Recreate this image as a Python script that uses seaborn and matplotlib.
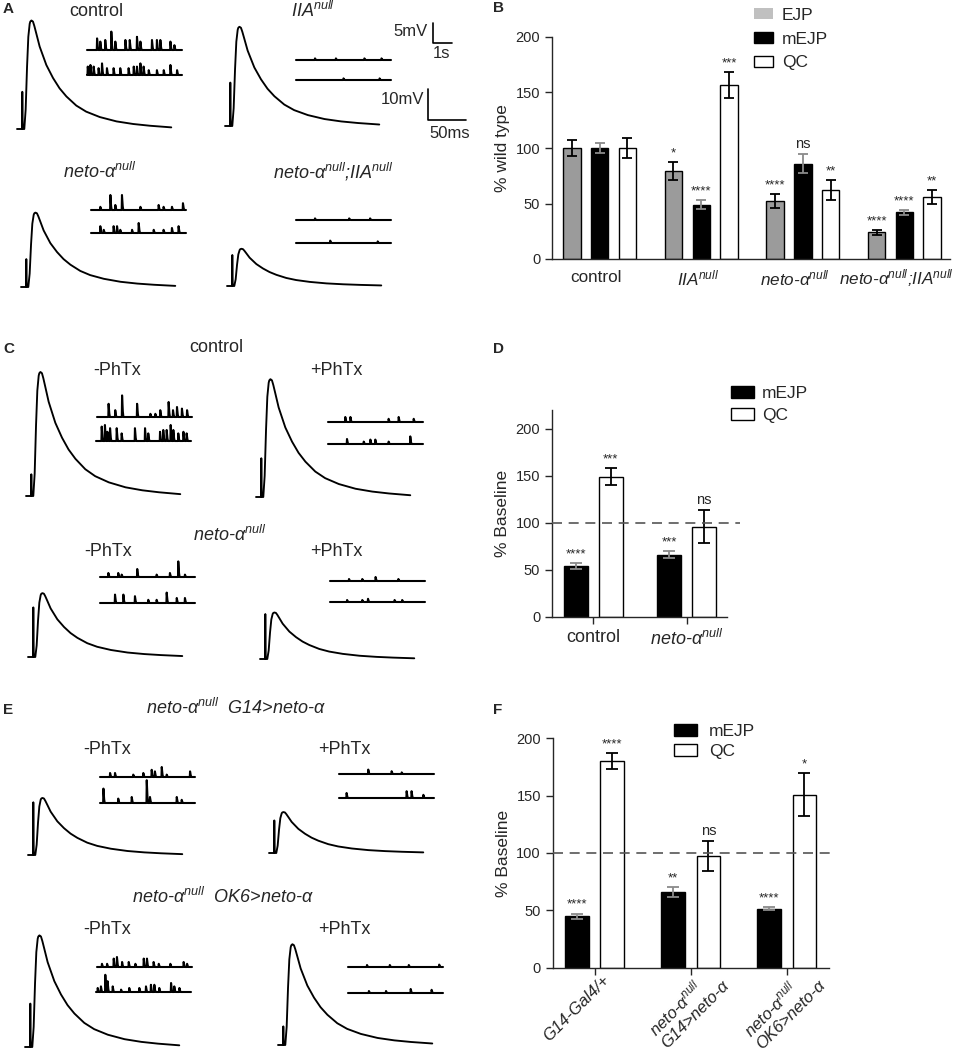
import matplotlib
matplotlib.use("Agg")
import matplotlib.pyplot as plt
import matplotlib.transforms as mtransforms
from matplotlib.patches import Patch
import pandas as pd
import seaborn as sns

# ---------------- data ----------------
# EJP waveform (ms, fraction of peak)
EJP_T = [9.6, 11.4, 13.2, 14.9, 16.7, 17.5, 18.9, 19.7, 21.0, 22.8, 25.4, 29.8,
         38.6, 47.4, 56.0, 65.0, 78.0, 91.0, 109.0, 131.0, 153.0, 175.0, 203.0]
EJP_F = [0, 0.18, 0.57, 0.85, 0.97, 0.99, 1.0, 0.997, 0.99, 0.95, 0.88, 0.76,
         0.59, 0.47, 0.375, 0.30, 0.216, 0.16, 0.11, 0.07, 0.046, 0.03, 0.015]

# peak amplitude and stimulus artifact (mV) per trace
A_EJP_MV = [35, 32, 24, 12]          # control, IIA, neto, neto;IIA
A_ART_MV = [12, 14, 9, 10]
C_EJP_MV = [40, 38, 20.6, 15]        # control -/+PhTx, neto -/+PhTx
C_ART_MV = [7, 12.5, 16, 14.5]
E_EJP_MV = [18.4, 13.2, 36, 32.5]    # G14 -/+PhTx, OK6 -/+PhTx
E_ART_MV = [17, 10.5, 14, 6]

# miniature events: times (s) and amplitudes (mV), two sweeps per recording
A_MINI_T = [
    [0.53, 0.70, 0.96, 1.28, 1.49, 2.02, 2.25, 2.63, 2.81, 3.42, 3.68, 3.86, 4.39, 4.60],
    [0.04, 0.18, 0.35, 0.61, 0.79, 1.05, 1.40, 1.75, 2.19, 2.46, 2.63, 2.81, 2.98, 3.25, 3.68, 4.04, 4.39, 4.74],
    [1.0, 2.1, 3.6, 4.5],
    [2.5, 4.4],
    [0.49, 1.02, 1.28, 1.63, 2.60, 3.56, 3.82, 4.26, 4.84],
    [0.49, 0.67, 1.19, 1.37, 1.54, 2.16, 2.51, 3.30, 3.82, 4.26, 4.61],
    [1.0, 2.8, 3.9],
    [1.8, 4.3],
]
A_MINI_A = [
    [2.9, 2.1, 2.5, 4.6, 2.1, 2.5, 2.5, 3.3, 2.1, 2.5, 2.5, 2.5, 2.1, 1.2],
    [2.1, 2.5, 2.1, 1.7, 2.9, 1.7, 1.7, 1.7, 1.7, 2.1, 2.1, 2.9, 2.1, 1.2, 1.2, 1.2, 2.5, 1.2],
    [0.4, 0.4, 0.4, 0.4],
    [0.4, 0.4],
    [0.8, 3.75, 1.25, 3.75, 0.8, 1.25, 0.8, 0.8, 1.7],
    [1.7, 0.8, 1.7, 1.7, 0.8, 0.8, 2.5, 0.8, 0.8, 1.25, 1.7],
    [0.4, 0.4, 0.4],
    [0.6, 0.4],
]
C_MINI_T = [
    [0.61, 0.96, 1.32, 2.11, 2.81, 3.07, 3.33, 3.77, 4.0, 4.21, 4.47, 4.74],
    [0.30, 0.47, 0.60, 0.74, 1.09, 1.35, 2.05, 2.58, 2.75, 3.37, 3.54, 3.72, 3.93, 4.07, 4.33, 4.60, 4.77],
    [0.91, 1.18, 3.19, 3.72, 4.51],
    [1.0, 1.88, 2.23, 2.49, 3.19, 4.33],
    [0.44, 0.96, 1.14, 1.96, 2.98, 3.68, 4.12, 4.47],
    [0.79, 1.23, 1.84, 2.54, 2.98, 3.51, 4.04, 4.47],
    [1.0, 1.7, 2.4, 3.6],
    [0.9, 1.7, 2.0, 3.4, 3.8],
]
C_MINI_A = [
    [3.3, 1.7, 5.4, 3.3, 0.8, 0.8, 1.7, 3.75, 1.7, 2.5, 2.1, 1.7],
    [3.6, 4.0, 2.3, 3.2, 3.2, 1.9, 3.2, 3.2, 1.9, 2.3, 2.75, 2.75, 4.0, 2.75, 1.9, 2.3, 1.9],
    [1.25, 1.25, 0.8, 1.25, 0.8],
    [1.25, 0.6, 1.1, 1.1, 0.6, 1.9],
    [1.0, 1.0, 0.6, 2.0, 0.6, 1.0, 3.9, 0.6],
    [2.1, 2.1, 1.7, 0.8, 0.8, 2.6, 1.25, 1.25],
    [0.5, 0.5, 1.0, 0.5],
    [0.5, 0.5, 0.8, 0.5, 0.5],
]
E_MINI_T = [
    [0.53, 0.79, 1.75, 2.28, 2.72, 2.89, 3.25, 3.51, 4.74],
    [0.18, 0.96, 1.67, 2.46, 2.63, 4.04, 4.30],
    [1.54, 2.77, 3.30],
    [0.40, 3.56, 3.82, 4.44],
    [0.26, 0.53, 0.88, 1.05, 1.32, 1.67, 2.02, 2.46, 2.63, 2.98, 3.25, 3.86, 4.56, 4.74],
    [0.09, 0.26, 0.49, 0.61, 0.88, 1.32, 1.75, 2.28, 2.63, 2.89, 3.07, 3.33, 3.95, 4.12, 4.39],
    [1.0, 2.2, 3.2, 4.8],
    [1.1, 2.0, 3.3, 4.4],
]
E_MINI_A = [
    [1.0, 1.0, 0.6, 1.0, 1.8, 1.4, 2.5, 0.6, 1.4],
    [3.6, 1.1, 1.5, 5.7, 1.5, 1.5, 0.8],
    [1.1, 0.7, 0.4],
    [1.25, 1.7, 1.7, 0.8],
    [0.8, 0.8, 2.1, 2.5, 1.25, 1.25, 0.8, 2.1, 2.1, 1.25, 0.8, 0.8, 1.25, 0.8],
    [1.0, 1.4, 4.3, 2.7, 1.4, 0.6, 1.0, 1.0, 1.4, 1.8, 1.8, 1.0, 2.25, 1.4, 1.0],
    [0.5, 0.5, 0.5, 0.6],
    [0.5, 0.5, 1.0, 0.8],
]

# bar charts
B_GENOTYPES = ["control", "IIA", "neto", "neto;IIA"]
B_LABELS = ["control", "IIA$^{null}$", "neto-α$^{null}$", "neto-α$^{null}$;IIA$^{null}$"]
B_MEASURES = ["EJP", "mEJP", "QC"]
B_EJP = [100, 79, 52, 24]
B_EJP_SEM = [7, 8, 6.3, 2.3]
B_MEJP = [100, 49, 86, 42]
B_MEJP_SEM = [4.4, 3.8, 8.7, 2.0]
B_QC = [100, 157, 62, 56]
B_QC_SEM = [9, 11.6, 9, 6]
B_STARS = [["", "*", "****", "****"], ["", "****", "ns", "****"], ["", "***", "**", "**"]]

D_GENOTYPES = ["control", "neto"]
D_LABELS = ["control", "neto-α$^{null}$"]
D_MEJP = [54, 66]
D_MEJP_SEM = [3, 3.5]
D_QC = [149, 96]
D_QC_SEM = [9, 18]
D_STARS = [["****", "***"], ["***", "ns"]]

F_GENOTYPES = ["G14", "G14 rescue", "OK6 rescue"]
F_LABELS = ["G14-Gal4/+", "neto-α$^{null}$\nG14>neto-α", "neto-α$^{null}$\nOK6>neto-α"]
F_MEJP = [45, 66, 51.5]
F_MEJP_SEM = [2.2, 4.4, 1.6]
F_QC = [180, 97.5, 151]
F_QC_SEM = [7, 13, 18.6]
F_STARS = [["****", "**", "****"], ["****", "ns", "*"]]

# ---------------- style ----------------
sns.set_style("ticks")
plt.rcParams["font.family"] = ["Liberation Sans", "DejaVu Sans"]
plt.rcParams["mathtext.fontset"] = "custom"
plt.rcParams["mathtext.it"] = "Liberation Sans:italic"
plt.rcParams["mathtext.rm"] = "Liberation Sans"
plt.rcParams["axes.linewidth"] = 1.0

W, H = 954, 1050
fig = plt.figure(figsize=(9.54, 10.5), dpi=100)
GRAY = "#9b9b9b"
ERR_GRAY = "#8a8a8a"


def px_axes(x0, y0, sx, sy, xmax, ymax):
    # x0, y0: pixel position of data origin; sx, sy: pixels per data unit
    ax = fig.add_axes([x0 / W, 1 - y0 / H, xmax * sx / W, ymax * sy / H])
    ax.set_xlim(0, xmax)
    ax.set_ylim(0, ymax)
    ax.axis("off")
    return ax


def draw_ejp(x0, y0, amp, art):
    ax = px_axes(x0, y0, 0.76, 3.1, 210, 45)
    t = [0, 6.5, 7.0, 7.6] + EJP_T
    v = [0, 0, art, 0] + [f * amp for f in EJP_F]
    ax.plot(t, v, color="black", lw=1.35, clip_on=False)


def draw_minis(x0, y0, times, amps):
    ax = px_axes(x0, y0, 19, 4, 5, 7)
    t, v = [0], [0]
    for ti, ai in zip(times, amps):
        t += [ti - 0.015, ti, ti + 0.04, ti + 0.07]
        v += [0, ai, ai * 0.25, 0]
    t.append(5)
    v.append(0)
    ax.plot(t, v, color="black", lw=1.5, clip_on=False)


def label(x, y, s, size=13, italic=False, **kw):
    fig.text(x / W, 1 - y / H, s, fontsize=size, ha=kw.pop("ha", "center"),
             va=kw.pop("va", "center"), fontstyle="italic" if italic else "normal", **kw)


def xlabel_at(ax, i, s, dx, dy, **kw):
    # category label under the axis, offset in pixels from (category, axis line)
    trans = mtransforms.offset_copy(ax.get_xaxis_transform(), fig=fig, x=dx, y=dy, units="dots")
    ax.text(i, 0, s, transform=trans, **kw)


for x, y, s in [(3, 9, "A"), (493, 8, "B"), (3, 349, "C"), (493, 349, "D"), (3, 710, "E"), (493, 710, "F")]:
    label(x, y, s, size=11, ha="left", fontweight="bold")

# ---------------- panel A ----------------
ejp_pos = [(17, 129), (225, 126), (21, 287), (227, 286)]
mini_pos = [(87, 50), (87, 75), (296, 60), (296, 80), (91, 210), (91, 233), (296, 220), (296, 243)]
for (x, y), amp, art in zip(ejp_pos, A_EJP_MV, A_ART_MV):
    draw_ejp(x, y, amp, art)
for (x, y), ts, am in zip(mini_pos, A_MINI_T, A_MINI_A):
    draw_minis(x, y, ts, am)
label(96, 11, "control")
label(313, 11, "IIA$^{null}$", italic=True)
label(100, 172, "neto-α$^{null}$", italic=True)
label(333, 172, "neto-α$^{null}$;IIA$^{null}$", italic=True)

# scale bars
sb = px_axes(433, 43, 19, 4, 1, 5)
sb.plot([0, 0, 1], [5, 0, 0], color="black", lw=1.2, clip_on=False)
label(428, 32, "5mV", ha="right", size=12)
label(442, 53, "1s", size=12)
sb2 = px_axes(428, 120, 0.76, 3.1, 50, 10)
sb2.plot([0, 0, 50], [10, 0, 0], color="black", lw=1.2, clip_on=False)
label(424, 100, "10mV", ha="right", size=12)
label(450, 133, "50ms", size=12)

# ---------------- panel C ----------------
ejp_pos = [(26, 496), (256, 497), (28, 657), (260, 659)]
mini_pos = [(97, 417), (96, 441), (328, 422), (328, 444), (100, 577), (100, 603), (330, 581), (330, 602)]
for (x, y), amp, art in zip(ejp_pos, C_EJP_MV, C_ART_MV):
    draw_ejp(x, y, amp, art)
for (x, y), ts, am in zip(mini_pos, C_MINI_T, C_MINI_A):
    draw_minis(x, y, ts, am)
label(216, 347, "control")
label(117, 370, "-PhTx")
label(336, 370, "+PhTx")
label(230, 535, "neto-α$^{null}$", italic=True)
label(108, 551, "-PhTx")
label(336, 551, "+PhTx")

# ---------------- panel E ----------------
ejp_pos = [(28, 855), (269, 853), (25, 1047), (278, 1045)]
mini_pos = [(100, 777), (100, 803), (339, 774), (339, 798), (97, 967), (96, 992), (348, 967), (348, 993)]
for (x, y), amp, art in zip(ejp_pos, E_EJP_MV, E_ART_MV):
    draw_ejp(x, y, amp, art)
for (x, y), ts, am in zip(mini_pos, E_MINI_T, E_MINI_A):
    draw_minis(x, y, ts, am)
label(236, 708, "neto-α$^{null}$  G14>neto-α", italic=True)
label(107, 749, "-PhTx")
label(344, 749, "+PhTx")
label(223, 897, "neto-α$^{null}$  OK6>neto-α", italic=True)
label(107, 930, "-PhTx")
label(344, 930, "+PhTx")


# ---------------- bar charts ----------------
def bar_panel(ax, genotypes, measures, values, sems, colors, err_colors, stars,
              width, gap, capsize):
    rows = []
    for m, vals in zip(measures, values):
        for g, v in zip(genotypes, vals):
            rows.append({"genotype": g, "measure": m, "value": v})
    df = pd.DataFrame(rows)
    sns.barplot(data=df, x="genotype", y="value", hue="measure", order=genotypes,
                hue_order=measures, palette=dict(zip(measures, colors)),
                edgecolor="black", linewidth=1.0, width=width, gap=gap,
                errorbar=None, legend=False, saturation=1, ax=ax)
    for cont, sem, ec, st in zip(ax.containers, sems, err_colors, stars):
        for bar, e, s in zip(cont, sem, st):
            x = bar.get_x() + bar.get_width() / 2
            h = bar.get_height()
            ax.errorbar(x, h, yerr=e, color=ec, capsize=capsize, elinewidth=1.3,
                        capthick=1.3, zorder=4)
            if s:
                fs = 10.5 if s == "ns" else 9.5
                ax.annotate(s, (x, h + e), xytext=(0, 2), textcoords="offset points",
                            ha="center", va="bottom", fontsize=fs)
    ax.set_xlabel("")
    sns.despine(ax=ax)
    ax.tick_params(axis="y", direction="out", length=5, width=1, labelsize=10.5)


# B
ax_b = fig.add_axes([552 / W, 1 - 259 / H, (950 - 552) / W, (259 - 37) / H])
bar_panel(ax_b, B_GENOTYPES, B_MEASURES, [B_EJP, B_MEJP, B_QC],
          [B_EJP_SEM, B_MEJP_SEM, B_QC_SEM], [GRAY, "black", "white"],
          ["black", ERR_GRAY, "black"], B_STARS, 0.82, 0.37, 3.6)
ax_b.set_xlim(-0.47, 3.45)
ax_b.set_ylim(0, 200)
ax_b.set_yticks([0, 50, 100, 150, 200])
ax_b.set_ylabel("% wild type", fontsize=12.5)
ax_b.set_xticks(range(4))
ax_b.set_xticklabels([])
ax_b.tick_params(axis="x", length=0)
for i, (s, dx) in enumerate(zip(B_LABELS, [-4, -3, -8, -8])):
    xlabel_at(ax_b, i, s, dx, -19, ha="center", va="center", fontsize=12.3,
              fontstyle="normal" if i == 0 else "italic")
ax_b.legend(handles=[Patch(facecolor="#c0c0c0", edgecolor="none", label="EJP"),
                     Patch(facecolor="black", edgecolor="black", label="mEJP"),
                     Patch(facecolor="white", edgecolor="black", label="QC")],
            loc="upper left", bbox_to_anchor=(754 / W, 1 - 8 / H), bbox_transform=fig.transFigure,
            frameon=False, fontsize=12.5, handlelength=1.1, handleheight=0.6,
            handletextpad=0.5, labelspacing=0.5, borderaxespad=0, borderpad=0)

# D
ax_d = fig.add_axes([552 / W, 1 - 616.7 / H, (726.7 - 552) / W, (616.7 - 410) / H])
bar_panel(ax_d, D_GENOTYPES, ["mEJP", "QC"], [D_MEJP, D_QC], [D_MEJP_SEM, D_QC_SEM],
          ["black", "white"], [ERR_GRAY, "black"], D_STARS, 0.75, 0.315, 4.2)
ax_d.set_xlim(-0.44, 1.43)
ax_d.set_ylim(0, 220)
ax_d.set_yticks([0, 50, 100, 150, 200])
ax_d.set_ylabel("% Baseline", fontsize=12.5)
ax_d.set_xticks(range(2))
ax_d.set_xticklabels(D_LABELS, fontsize=13)
ax_d.get_xticklabels()[1].set_fontstyle("italic")
ax_d.tick_params(axis="x", direction="out", length=5, width=1)
ax_d.plot([-0.44, 1.577], [100, 100], ls=(0, (6, 4)), color="#555555", lw=1.2,
          clip_on=False, zorder=5)
ax_d.legend(handles=[Patch(facecolor="black", edgecolor="black", label="mEJP"),
                     Patch(facecolor="white", edgecolor="black", label="QC")],
            loc="upper left", bbox_to_anchor=(731 / W, 1 - 386 / H), bbox_transform=fig.transFigure,
            frameon=False, fontsize=12.5, handlelength=1.3, handleheight=0.65,
            handletextpad=0.5, labelspacing=0.4, borderaxespad=0, borderpad=0)

# F
ax_f = fig.add_axes([552.7 / W, 1 - 967.7 / H, (829 - 552.7) / W, (967.7 - 738.3) / H])
bar_panel(ax_f, F_GENOTYPES, ["mEJP", "QC"], [F_MEJP, F_QC], [F_MEJP_SEM, F_QC_SEM],
          ["black", "white"], [ERR_GRAY, "black"], F_STARS, 0.74, 0.335, 4.2)
ax_f.set_xlim(-0.435, 2.44)
ax_f.set_ylim(0, 200)
ax_f.set_yticks([0, 50, 100, 150, 200])
ax_f.set_ylabel("% Baseline", fontsize=12.5)
ax_f.set_xticks(range(3))
ax_f.set_xticklabels([])
ax_f.tick_params(axis="x", direction="out", length=5, width=1)
for i, (s, (dx, dy)) in enumerate(zip(F_LABELS, [(7, -5), (16, 5), (16, 5)])):
    xlabel_at(ax_f, i, s, dx, dy, rotation=45, ha="right", va="top", rotation_mode="anchor",
              multialignment="left", linespacing=1.1, fontsize=12, fontstyle="italic")
ax_f.plot([-0.435, 2.517], [100, 100], ls=(0, (6, 4)), color="#555555", lw=1.2,
          clip_on=False, zorder=5)
ax_f.legend(handles=[Patch(facecolor="black", edgecolor="black", label="mEJP"),
                     Patch(facecolor="white", edgecolor="black", label="QC")],
            loc="upper left", bbox_to_anchor=(674 / W, 1 - 724 / H), bbox_transform=fig.transFigure,
            frameon=False, fontsize=12.5, handlelength=1.3, handleheight=0.65,
            handletextpad=0.7, labelspacing=0.3, borderaxespad=0, borderpad=0)

fig.savefig("out.png", dpi=100)
